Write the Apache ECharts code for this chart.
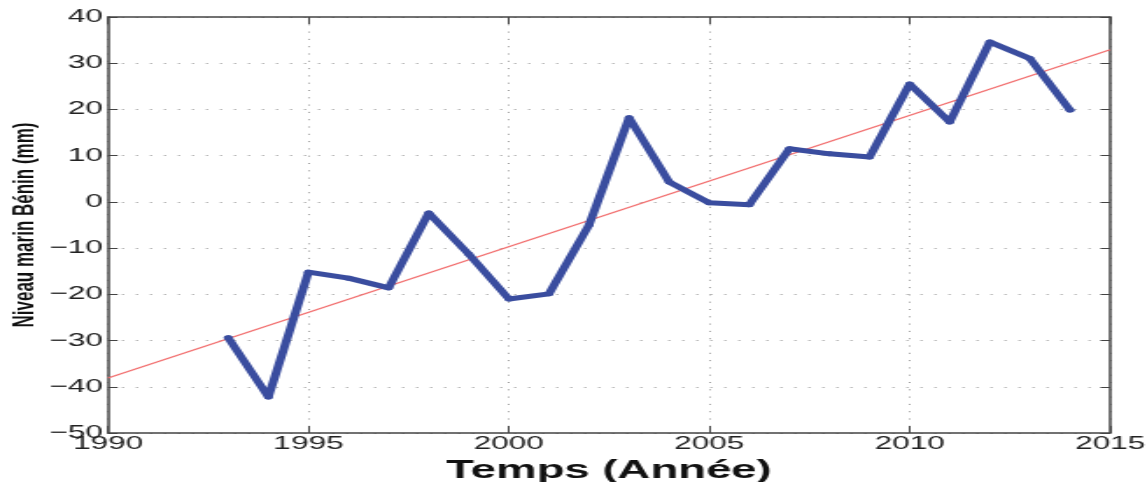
<!DOCTYPE html>
<html>
<head>
<meta charset="utf-8">
<script src="https://cdn.jsdelivr.net/npm/echarts@6/dist/echarts.min.js"></script>
<style>
  html, body { margin: 0; padding: 0; background: #fff; overflow: hidden; }
  /* The figure is laid out narrow and stretched sideways, like the exported plot */
  #chart { width: 655px; height: 482px; transform: scaleX(1.7511); transform-origin: 0 0; }
</style>
</head>
<body>
<div id="chart"></div>
<script>
// Annual mean sea level, Benin (mm)
const years = [1993, 1994, 1995, 1996, 1997, 1998, 1999, 2000, 2001, 2002, 2003,
               2004, 2005, 2006, 2007, 2008, 2009, 2010, 2011, 2012, 2013, 2014];
const seaLevel = [-29.4, -42.2, -15.2, -16.5, -18.6, -2.4, -11.3, -21.0, -19.9, -5.0, 18.2,
                  4.3, -0.2, -0.6, 11.5, 10.4, 9.7, 25.5, 17.3, 34.6, 31.0, 19.9];
// Linear trend, drawn across the full time axis
const trendYears = [1990, 2015];
const trendValues = [-38.1, 32.9];

const xTicks = { min: 1990, max: 2015, interval: 5 };
const yTicks = { min: -50, max: 40, interval: 10 };

const axisColor = '#444';
const labelFont = { fontFamily: 'Liberation Sans, Arial, sans-serif', fontSize: 18, color: '#222' };
const minusFmt = v => (v < 0 ? '\u2212' + Math.abs(v) : String(v));

const chart = echarts.init(document.getElementById('chart'), null, { renderer: 'canvas' });

chart.setOption({
  animation: false,
  backgroundColor: '#fff',
  grid: { left: 61.7, right: 21.1, top: 17, bottom: 49, containLabel: false, outerBoundsMode: 'none' },
  xAxis: [{
    type: 'value', min: xTicks.min, max: xTicks.max, interval: xTicks.interval,
    name: 'Temps (Année)', nameLocation: 'middle', nameGap: 22,
    nameTextStyle: { fontFamily: 'Liberation Sans, Arial, sans-serif', fontWeight: 'bold', fontSize: 26, color: '#111' },
    axisLine: { show: true, onZero: false, lineStyle: { color: axisColor, width: 1.5 } },
    axisTick: { show: true, inside: true, length: 7, lineStyle: { color: axisColor, width: 1 } },
    axisLabel: Object.assign({ margin: 2, formatter: v => String(v) }, labelFont),
    splitLine: { show: true, lineStyle: { color: '#999', width: 1, type: [1, 6.3] } }
  }, {
    type: 'value', position: 'top', min: xTicks.min, max: xTicks.max, interval: xTicks.interval,
    axisLine: { show: true, onZero: false, lineStyle: { color: axisColor, width: 1.5 } },
    axisTick: { show: true, inside: true, length: 7, lineStyle: { color: axisColor, width: 1 } },
    axisLabel: { show: false }, splitLine: { show: false }
  }],
  yAxis: [{
    type: 'value', min: yTicks.min, max: yTicks.max, interval: yTicks.interval,
    name: 'Niveau marin Bénin (mm)', nameLocation: 'middle', nameGap: 38.5, nameRotate: 90,
    nameMoveOverlap: false,
    nameTextStyle: { fontFamily: 'Liberation Sans, Arial, sans-serif', fontWeight: 'bold', fontSize: 17, color: '#111' },
    axisLine: { show: true, onZero: false, lineStyle: { color: axisColor, width: 1.5 } },
    axisTick: { show: true, inside: true, length: 5.5, lineStyle: { color: axisColor, width: 1 } },
    axisLabel: Object.assign({ margin: 3, formatter: minusFmt }, labelFont),
    splitLine: { show: true, lineStyle: { color: '#999', width: 1, type: [1, 7] } }
  }, {
    type: 'value', position: 'right', min: yTicks.min, max: yTicks.max, interval: yTicks.interval,
    axisLine: { show: true, onZero: false, lineStyle: { color: axisColor, width: 1.5 } },
    axisTick: { show: true, inside: true, length: 5.5, lineStyle: { color: axisColor, width: 1 } },
    axisLabel: { show: false }, splitLine: { show: false }
  }],
  series: [{
    name: 'Tendance', type: 'line',
    data: trendYears.map((y, i) => [y, trendValues[i]]),
    showSymbol: false, silent: true, z: 2,
    lineStyle: { color: '#f26b6b', width: 1.2 }
  }, {
    name: 'Niveau marin', type: 'line',
    data: years.map((y, i) => [y, seaLevel[i]]),
    symbol: 'circle', symbolSize: 5, z: 3,
    itemStyle: { color: '#3a4d9f' },
    lineStyle: { color: '#3a4d9f', width: 5, join: 'round', cap: 'round' }
  }]
});
</script>
</body>
</html>
